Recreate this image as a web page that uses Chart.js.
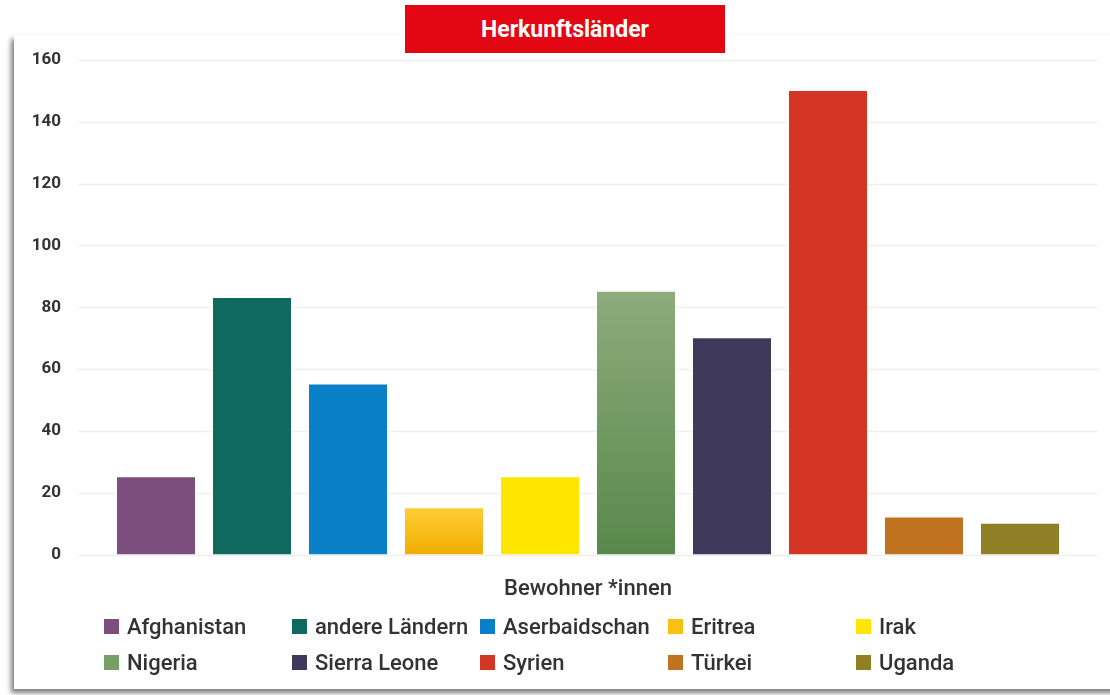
<!DOCTYPE html>
<html>
<head>
<meta charset="utf-8">
<script src="https://cdn.jsdelivr.net/npm/chart.js@4/dist/chart.umd.min.js"></script>
<style>
  html, body { margin: 0; padding: 0; background: #ffffff; }
  body { width: 1110px; height: 695px; position: relative; overflow: hidden; font-family: Roboto, "Noto Sans", sans-serif; }
  #card { position: absolute; left: 14px; top: 35px; width: 1120px; height: 654px; background: #fff;
          box-shadow: -3px 4px 5px rgba(0,0,0,0.5); }
  #title { position: absolute; left: 405px; top: 5px; width: 320px; height: 48px; background: #e30613;
           color: #fff; font-weight: bold; font-size: 23px; line-height: 50px; text-align: center; z-index: 3; }
  #wrap { position: absolute; left: 0; top: 0; width: 1110px; height: 695px; z-index: 2; }
  #legend { position: absolute; left: 104px; top: 608px; display: grid; grid-template-columns: repeat(5, 188px);
            grid-auto-rows: 36px; z-index: 3; }
  .li { display: flex; align-items: center; font-size: 22px; font-weight: 500; color: #333; white-space: nowrap; }
  .sw { width: 15px; height: 15px; margin-right: 8px; flex: none; }
</style>
</head>
<body>
<div id="card"></div>
<div id="title">Herkunftsländer</div>
<div id="wrap"><canvas id="c" width="1110" height="695"></canvas></div>
<div id="legend"></div>
<script>
const categories = ["Afghanistan", "andere Ländern", "Aserbaidschan", "Eritrea", "Irak", "Nigeria", "Sierra Leone", "Syrien", "Türkei", "Uganda"];
const values = [25, 83, 55, 15, 25, 85, 70, 150, 12, 10];
const colors = ["#7b4e7d", "#0f695e", "#0a80c8", "#f9c00f", "#ffe600", "#77a068", "#3f3a5c", "#d43626", "#bf731f", "#8f7f25"];
const gradientTops = {3: "#ffcd35", 5: "#8eab7b"};
const gradientBottoms = {3: "#efae00", 5: "#58884c"};
const yTicks = [0, 20, 40, 60, 80, 100, 120, 140, 160];
const axisTitle = "Bewohner *innen";

const legend = document.getElementById('legend');
categories.forEach((c, i) => {
  const d = document.createElement('div');
  d.className = 'li';
  d.innerHTML = '<span class="sw" style="background:' + colors[i] + '"></span><span>' + c + '</span>';
  legend.appendChild(d);
});

const gridPlugin = {
  id: 'extGrid',
  beforeDatasetsDraw(chart) {
    const y = chart.scales.y;
    const ctx = chart.ctx;
    ctx.save();
    ctx.strokeStyle = '#efefef';
    ctx.lineWidth = 1.5;
    y.ticks.forEach(t => {
      const py = Math.round(y.getPixelForValue(t.value)) + 0.5;
      ctx.beginPath();
      ctx.moveTo(78, py);
      ctx.lineTo(1098, py);
      ctx.stroke();
    });
    ctx.restore();
  }
};

function barColor(context) {
  const i = context.dataIndex;
  if (gradientTops[i] === undefined) return colors[i];
  const chart = context.chart;
  const ys = chart.scales.y;
  if (!ys || !chart.chartArea) return colors[i];
  const top = ys.getPixelForValue(values[i]);
  const bottom = ys.getPixelForValue(0);
  const g = chart.ctx.createLinearGradient(0, top, 0, bottom);
  g.addColorStop(0, gradientTops[i]);
  g.addColorStop(1, gradientBottoms[i]);
  return g;
}

new Chart(document.getElementById('c'), {
  type: 'bar',
  data: {
    labels: categories,
    datasets: [{
      data: values,
      backgroundColor: barColor,
      borderWidth: 0,
      categoryPercentage: 0.8125,
      barPercentage: 1.0
    }]
  },
  options: {
    responsive: false,
    animation: false,
    devicePixelRatio: 1,
    layout: { padding: { left: 0, right: 42, top: 60, bottom: 92 } },
    plugins: { legend: { display: false }, tooltip: { enabled: false } },
    scales: {
      x: {
        grid: { display: false, drawTicks: false },
        border: { display: false },
        ticks: { display: false },
        title: { display: true, text: axisTitle, color: '#333', padding: { top: 22, bottom: 0 },
                 font: { family: 'Roboto', size: 22, weight: '500' } }
      },
      y: {
        min: 0, max: 160,
        afterFit(scale) { scale.width = 108; },
        afterBuildTicks(scale) { scale.ticks = yTicks.map(v => ({ value: v })); },
        grid: { display: false, drawTicks: false },
        border: { display: false },
        ticks: { padding: 47, color: '#333', font: { family: 'Roboto', size: 17, weight: 'bold' } }
      }
    }
  },
  plugins: [gridPlugin]
});
</script>
</body>
</html>
